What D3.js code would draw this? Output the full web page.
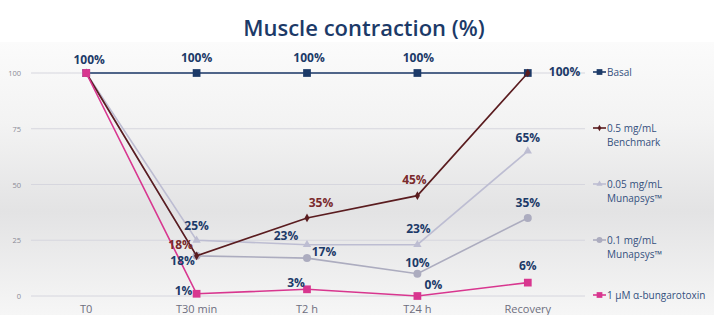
<!DOCTYPE html>
<html>
<head>
<meta charset="utf-8">
<script src="https://cdn.jsdelivr.net/npm/d3@7"></script>
<style>
    html, body { margin: 0; padding: 0; background: #fff; }
    text { font-family: "Open Sans", sans-serif; }
</style>
</head>
<body>
<svg id="svg" width="714" height="315"></svg>
<script>
    var categories = ["T0", "T30 min", "T2 h", "T24 h", "Recovery"];
    var yTicks = [0, 25, 50, 75, 100];

    var basal = [100, 100, 100, 100, 100];
    var benchmark = [100, 18, 35, 45, 100];
    var muna005 = [100, 25, 23, 23, 65];
    var muna01 = [100, 18, 17, 10, 35];
    var bungarotoxin = [100, 1, 3, 0, 6];

    // label placement per point: [dx, dy] or null for no label
    var series = [
        { name: ["Basal"], values: basal, color: "#1c3a68", labelColor: "#1c3a68", marker: d3.symbolSquare, size: 60,
          labels: [[3, -9], [0, -11], [2, -11], [1, -11], [21, 3, "start"]] },
        { name: ["0.05 mg/mL", "Munapsys\u2122"], values: muna005, color: "#bdbdd2", labelColor: "#1c3a68", marker: d3.symbolTriangle, size: 30,
          labels: [null, [0, -10], [-21, -5], [1, -12], [0, -9]] },
        { name: ["0.1 mg/mL", "Munapsys\u2122"], values: muna01, color: "#acacbf", labelColor: "#1c3a68", marker: d3.symbolCircle, size: 50,
          labels: [null, [-14, 9], [17, -2], [0, -7], [0, -11]] },
        { name: ["0.5 mg/mL", "Benchmark"], values: benchmark, color: "#5a1c1f", labelColor: "#7a2a2c", marker: d3.symbolDiamond, size: 22,
          labels: [null, [-16, -7], [14, -11], [-3, -12], null] },
        { name: ["1 \u00b5M \u03b1-bungarotoxin"], values: bungarotoxin, color: "#d8368f", labelColor: "#1c3a68", marker: d3.symbolSquare, size: 60,
          labels: [null, [-13, 1], [-11, -2], [16, -7], [0, -13]] }
    ];
    var legendOrder = [0, 3, 1, 2, 4];
    var legendY = [72, 128, 184, 240, 295];

    var svg = d3.select("#svg");
    var defs = svg.append("defs");
    var grad = defs.append("linearGradient").attr("id", "bg")
        .attr("x1", 0).attr("y1", 0).attr("x2", 0).attr("y2", 1);
    grad.append("stop").attr("offset", "0%").attr("stop-color", "#fbfbfb");
    grad.append("stop").attr("offset", "30%").attr("stop-color", "#f3f3f3");
    grad.append("stop").attr("offset", "62%").attr("stop-color", "#e3e3e4");
    grad.append("stop").attr("offset", "100%").attr("stop-color", "#f6f6f6");
    svg.append("rect").attr("x", 0).attr("y", 42).attr("width", 714).attr("height", 273)
        .attr("fill", "url(#bg)");

    svg.append("text").attr("x", 364).attr("y", 36)
        .attr("text-anchor", "middle")
        .attr("font-size", 22).attr("font-weight", 600)
        .attr("fill", "#1c3a68")
        .text("Muscle contraction (%)");

    var x = d3.scaleBand().domain(categories).range([31, 583]);
    var y = d3.scaleLinear().domain([0, 100]).range([296, 73]);
    var cx = function (c) { return x(c) + x.bandwidth() / 2; };

    // gridlines + y ticks
    svg.append("g").selectAll("line").data(yTicks).enter().append("line")
        .attr("x1", 31).attr("x2", 585)
        .attr("y1", function (d) { return y(d); })
        .attr("y2", function (d) { return y(d); })
        .attr("stroke", "#d6d6de").attr("stroke-width", 1);
    svg.append("g").selectAll("text").data(yTicks).enter().append("text")
        .attr("x", 21).attr("y", function (d) { return y(d) + 3; })
        .attr("text-anchor", "end").attr("font-size", 7.5).attr("fill", "#8a8a96")
        .text(function (d) { return d; });

    // x labels
    svg.append("g").selectAll("text").data(categories).enter().append("text")
        .attr("x", function (d) { return cx(d); }).attr("y", 313)
        .attr("text-anchor", "middle").attr("font-size", 11).attr("fill", "#6e6e7e")
        .text(function (d) { return d; });

    var line = d3.line()
        .x(function (d, i) { return cx(categories[i]); })
        .y(function (d) { return y(d); });

    series.forEach(function (s) {
        var g = svg.append("g");
        g.append("path").attr("d", line(s.values))
            .attr("fill", "none").attr("stroke", s.color).attr("stroke-width", 1.6);
        g.selectAll("path.m").data(s.values).enter().append("path").attr("class", "m")
            .attr("transform", function (d, i) { return "translate(" + cx(categories[i]) + "," + y(d) + ")"; })
            .attr("d", d3.symbol().type(s.marker).size(s.size))
            .attr("fill", s.color);
    });

    // data labels
    series.forEach(function (s) {
        var pts = [];
        s.values.forEach(function (v, i) {
            if (s.labels[i]) pts.push({ v: v, c: categories[i], p: s.labels[i] });
        });
        svg.append("g").selectAll("text").data(pts).enter().append("text")
            .attr("x", function (d) { return cx(d.c) + d.p[0]; })
            .attr("y", function (d) { return y(d.v) + d.p[1]; })
            .attr("text-anchor", function (d) { return d.p[2] || "middle"; })
            .attr("font-size", 12).attr("font-weight", 700)
            .attr("fill", s.labelColor)
            .text(function (d) { return d.v + "%"; });
    });

    // legend
    legendOrder.forEach(function (si, k) {
        var s = series[si];
        var g = svg.append("g").attr("transform", "translate(593," + legendY[k] + ")");
        g.append("line").attr("x1", 0).attr("x2", 13).attr("y1", 0).attr("y2", 0)
            .attr("stroke", s.color).attr("stroke-width", 1.6);
        g.append("path").attr("transform", "translate(6.5,0)")
            .attr("d", d3.symbol().type(s.marker).size(s.size * 0.55))
            .attr("fill", s.color);
        s.name.forEach(function (t, j) {
            g.append("text").attr("x", 14).attr("y", 3.5 + j * 14)
                .attr("font-size", 10).attr("fill", "#34507e")
                .text(t);
        });
    });
</script>
</body>
</html>
